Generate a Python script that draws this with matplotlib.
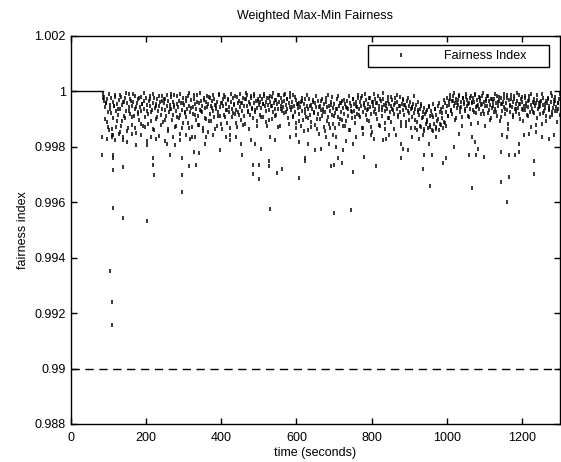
import numpy as np
import matplotlib
matplotlib.use("Agg")
import matplotlib.pyplot as plt

plt.rcParams["font.family"] = ["Liberation Sans", "DejaVu Sans"]

# flat start of the run (index stays at 1)
start_t = [0, 86]
start_v = [1.0, 1.0]

# samples read every 2 seconds from t=86 to t=1300
band_t = np.arange(86, 1301, 2)
band_v = [
    0.99992, 0.99981, 0.99966, 0.99943, 0.99958, 0.99889, 0.99971, 0.99925, 0.99862, 0.99950,
    0.99935, 0.99978, 0.99842, 0.99962, 0.99905, 0.99947, 0.99988, 0.99871, 0.99931, 0.99954,
    0.99915, 0.99968, 0.99845, 0.99937, 0.99979, 0.99893, 0.99952, 0.99826, 0.99961, 0.99904,
    0.99975, 0.99931, 0.99958, 0.99868, 0.99942, 0.99989, 0.99917, 0.99964, 0.99880, 0.99947,
    0.99962, 0.99912, 0.99983, 0.99936, 0.99851, 0.99957, 0.99926, 0.99971, 0.99898, 0.99944,
    0.99981, 0.99929, 0.99953, 0.99874, 0.99966, 0.99938, 0.99908, 0.99975, 0.99822, 0.99952,
    0.99918, 0.99964, 0.99947, 0.99985, 0.99893, 0.99933, 0.99959, 0.99866, 0.99977, 0.99941,
    0.99956, 0.99902, 0.99972, 0.99928, 0.99948, 0.99838, 0.99963, 0.99915, 0.99984, 0.99937,
    0.99889, 0.99958, 0.99932, 0.99973, 0.99911, 0.99946, 0.99857, 0.99966, 0.99924, 0.99952,
    0.99979, 0.99937, 0.99896, 0.99961, 0.99945, 0.99988, 0.99872, 0.99929, 0.99955, 0.99908,
    0.99943, 0.99967, 0.99915, 0.99848, 0.99958, 0.99932, 0.99976, 0.99886, 0.99951, 0.99921,
    0.99964, 0.99906, 0.99938, 0.99982, 0.99867, 0.99949, 0.99927, 0.99969, 0.99835, 0.99945,
    0.99918, 0.99972, 0.99953, 0.99896, 0.99937, 0.99986, 0.99911, 0.99958, 0.99879, 0.99934,
    0.99967, 0.99925, 0.99948, 0.99869, 0.99978, 0.99939, 0.99903, 0.99962, 0.99944, 0.99852,
    0.99956, 0.99981, 0.99918, 0.99947, 0.99893, 0.99965, 0.99931, 0.99974, 0.99909, 0.99952,
    0.99936, 0.99875, 0.99961, 0.99924, 0.99988, 0.99943, 0.99912, 0.99957, 0.99865, 0.99971,
    0.99948, 0.99915, 0.99979, 0.99933, 0.99956, 0.99887, 0.99968, 0.99926, 0.99945, 0.99841,
    0.99963, 0.99938, 0.99907, 0.99975, 0.99952, 0.99919, 0.99984, 0.99934, 0.99871, 0.99958,
    0.99927, 0.99966, 0.99944, 0.99898, 0.99959, 0.99931, 0.99977, 0.99912, 0.99949, 0.99882,
    0.99972, 0.99946, 0.99988, 0.99929, 0.99961, 0.99915, 0.99953, 0.99978, 0.99936, 0.99905,
    0.99958, 0.99982, 0.99924, 0.99966, 0.99941, 0.99893, 0.99974, 0.99952, 0.99916, 0.99963,
    0.99939, 0.99971, 0.99955, 0.99908, 0.99984, 0.99947, 0.99928, 0.99962, 0.99876, 0.99951,
    0.99975, 0.99932, 0.99963, 0.99946, 0.99899, 0.99981, 0.99924, 0.99957, 0.99938, 0.99969,
    0.99915, 0.99953, 0.99986, 0.99937, 0.99961, 0.99874, 0.99948, 0.99976, 0.99928, 0.99942,
    0.99966, 0.99921, 0.99989, 0.99952, 0.99935, 0.99971, 0.99903, 0.99958, 0.99944, 0.99979,
    0.99934, 0.99962, 0.99911, 0.99987, 0.99948, 0.99926, 0.99968, 0.99885, 0.99955, 0.99939,
    0.99957, 0.99918, 0.99942, 0.99876, 0.99965, 0.99931, 0.99896, 0.99953, 0.99922, 0.99974,
    0.99908, 0.99946, 0.99862, 0.99937, 0.99971, 0.99915, 0.99952, 0.99889, 0.99935, 0.99961,
    0.99926, 0.99879, 0.99958, 0.99943, 0.99902, 0.99967, 0.99917, 0.99848, 0.99949, 0.99933,
    0.99964, 0.99912, 0.99938, 0.99871, 0.99955, 0.99927, 0.99978, 0.99895, 0.99944, 0.99909,
    0.99948, 0.99867, 0.99929, 0.99962, 0.99914, 0.99941, 0.99884, 0.99956, 0.99923, 0.99837,
    0.99935, 0.99971, 0.99906, 0.99947, 0.99882, 0.99958, 0.99924, 0.99965, 0.99898, 0.99939,
    0.99918, 0.99953, 0.99875, 0.99942, 0.99967, 0.99911, 0.99936, 0.99861, 0.99957, 0.99928,
    0.99946, 0.99903, 0.99972, 0.99931, 0.99955, 0.99886, 0.99963, 0.99919, 0.99944, 0.99977,
    0.99937, 0.99961, 0.99908, 0.99949, 0.99983, 0.99926, 0.99869, 0.99958, 0.99941, 0.99914,
    0.99968, 0.99932, 0.99955, 0.99892, 0.99976, 0.99943, 0.99918, 0.99962, 0.99853, 0.99947,
    0.99925, 0.99971, 0.99938, 0.99957, 0.99901, 0.99985, 0.99934, 0.99949, 0.99877, 0.99966,
    0.99942, 0.99912, 0.99974, 0.99951, 0.99928, 0.99865, 0.99959, 0.99936, 0.99981, 0.99904,
    0.99955, 0.99927, 0.99946, 0.99889, 0.99968, 0.99933, 0.99952, 0.99917, 0.99975, 0.99841,
    0.99938, 0.99963, 0.99906, 0.99947, 0.99924, 0.99979, 0.99891, 0.99956, 0.99932, 0.99968,
    0.99915, 0.99952, 0.99874, 0.99941, 0.99966, 0.99929, 0.99948, 0.99897, 0.99961, 0.99935,
    0.99942, 0.99908, 0.99956, 0.99923, 0.99868, 0.99937, 0.99951, 0.99889, 0.99927, 0.99962,
    0.99915, 0.99935, 0.99872, 0.99948, 0.99903, 0.99926, 0.99857, 0.99941, 0.99918, 0.99884,
    0.99932, 0.99896, 0.99867, 0.99945, 0.99911, 0.99878, 0.99929, 0.99862, 0.99953, 0.99907,
    0.99884, 0.99938, 0.99871, 0.99916, 0.99892, 0.99947, 0.99859, 0.99925, 0.99881, 0.99936,
    0.99905, 0.99868, 0.99942, 0.99891, 0.99958, 0.99927, 0.99875, 0.99946, 0.99913, 0.99964,
    0.99951, 0.99973, 0.99932, 0.99964, 0.99918, 0.99985, 0.99947, 0.99958, 0.99896, 0.99971,
    0.99939, 0.99968, 0.99952, 0.99987, 0.99926, 0.99961, 0.99943, 0.99908, 0.99977, 0.99955,
    0.99963, 0.99928, 0.99981, 0.99946, 0.99969, 0.99912, 0.99958, 0.99975, 0.99937, 0.99883,
    0.99957, 0.99976, 0.99934, 0.99962, 0.99988, 0.99945, 0.99921, 0.99968, 0.99951, 0.99979,
    0.99938, 0.99965, 0.99917, 0.99954, 0.99983, 0.99929, 0.99961, 0.99876, 0.99948, 0.99972,
    0.99946, 0.99985, 0.99923, 0.99967, 0.99951, 0.99904, 0.99974, 0.99939, 0.99962, 0.99927,
    0.99971, 0.99936, 0.99958, 0.99912, 0.99983, 0.99947, 0.99964, 0.99892, 0.99955, 0.99978,
    0.99929, 0.99962, 0.99944, 0.99976, 0.99918, 0.99957, 0.99986, 0.99934, 0.99866, 0.99969,
    0.99952, 0.99924, 0.99973, 0.99945, 0.99961, 0.99909, 0.99982, 0.99938, 0.99956, 0.99927,
    0.99965, 0.99941, 0.99988, 0.99919, 0.99954, 0.99972, 0.99936, 0.99961, 0.99895, 0.99948,
    0.99976, 0.99932, 0.99959, 0.99914, 0.99967, 0.99943, 0.99985, 0.99926, 0.99952, 0.99871,
    0.99938, 0.99963, 0.99921, 0.99974, 0.99947, 0.99958, 0.99903, 0.99969, 0.99935, 0.99957,
    0.99946, 0.99917, 0.99964, 0.99881, 0.99952, 0.99978, 0.99928, 0.99941, 0.99966, 0.99912,
    0.99958, 0.99973, 0.99934, 0.99949, 0.99906, 0.99962, 0.99925, 0.99984, 0.99939, 0.99955,
    0.99928, 0.99967, 0.99943, 0.99891, 0.99958, 0.99936, 0.99972, 0.99914,
]

# in-between samples, every 4 seconds from t=87
odd_t = np.arange(87, 1300, 4)
odd_v = [
    0.99975, 0.99902, 0.99958, 0.99871, 0.99989, 0.99923, 0.99864, 0.99946, 0.99981, 0.99895,
    0.99938, 0.99986, 0.99877, 0.99961, 0.99912, 0.99993, 0.99858, 0.99929, 0.99974, 0.99906,
    0.99989, 0.99868, 0.99942, 0.99919, 0.99978, 0.99884, 0.99956, 0.99993, 0.99873, 0.99931,
    0.99884, 0.99971, 0.99926, 0.99992, 0.99861, 0.99948, 0.99906, 0.99983, 0.99879, 0.99964,
    0.99972, 0.99897, 0.99987, 0.99865, 0.99938, 0.99991, 0.99914, 0.99952, 0.99876, 0.99983,
    0.99903, 0.99989, 0.99869, 0.99957, 0.99924, 0.99978, 0.99885, 0.99993, 0.99941, 0.99872,
    0.99988, 0.99914, 0.99963, 0.99879, 0.99994, 0.99928, 0.99857, 0.99969, 0.99901, 0.99982,
    0.99893, 0.99975, 0.99939, 0.99986, 0.99866, 0.99949, 0.99911, 0.99992, 0.99883, 0.99958,
    0.99986, 0.99906, 0.99934, 0.99973, 0.99869, 0.99991, 0.99921, 0.99954, 0.99887, 0.99979,
    0.99915, 0.99989, 0.99958, 0.99878, 0.99972, 0.99994, 0.99926, 0.99865, 0.99983, 0.99941,
    0.99991, 0.99932, 0.99874, 0.99967, 0.99985, 0.99908, 0.99953, 0.99992, 0.99889, 0.99976,
    0.99898, 0.99983, 0.99947, 0.99993, 0.99912, 0.99968, 0.99871, 0.99988, 0.99935, 0.99962,
    0.99987, 0.99924, 0.99971, 0.99882, 0.99995, 0.99943, 0.99906, 0.99979, 0.99867, 0.99954,
    0.99893, 0.99962, 0.99978, 0.99858, 0.99935, 0.99986, 0.99904, 0.99948, 0.99873, 0.99969,
    0.99921, 0.99982, 0.99865, 0.99945, 0.99899, 0.99974, 0.99927, 0.99856, 0.99963, 0.99988,
    0.99884, 0.99951, 0.99979, 0.99912, 0.99867, 0.99938, 0.99985, 0.99902, 0.99957, 0.99874,
    0.99968, 0.99893, 0.99941, 0.99983, 0.99862, 0.99926, 0.99972, 0.99909, 0.99949, 0.99987,
    0.99915, 0.99976, 0.99869, 0.99952, 0.99991, 0.99897, 0.99936, 0.99978, 0.99871, 0.99961,
    0.99989, 0.99918, 0.99957, 0.99878, 0.99973, 0.99932, 0.99993, 0.99886, 0.99947, 0.99965,
    0.99903, 0.99981, 0.99936, 0.99863, 0.99958, 0.99987, 0.99914, 0.99949, 0.99877, 0.99972,
    0.99952, 0.99889, 0.99976, 0.99923, 0.99868, 0.99941, 0.99983, 0.99897, 0.99862, 0.99934,
    0.99876, 0.99953, 0.99908, 0.99864, 0.99927, 0.99889, 0.99946, 0.99872, 0.99915, 0.99858,
    0.99937, 0.99866, 0.99902, 0.99958, 0.99879, 0.99921, 0.99969, 0.99885, 0.99976, 0.99912,
    0.99988, 0.99929, 0.99967, 0.99993, 0.99905, 0.99958, 0.99982, 0.99941, 0.99874, 0.99975,
    0.99936, 0.99991, 0.99954, 0.99908, 0.99984, 0.99962, 0.99927, 0.99989, 0.99946, 0.99887,
    0.99978, 0.99952, 0.99993, 0.99918, 0.99967, 0.99985, 0.99934, 0.99896, 0.99972, 0.99948,
    0.99989, 0.99926, 0.99963, 0.99981, 0.99907, 0.99956, 0.99992, 0.99938, 0.99975, 0.99883,
    0.99947, 0.99986, 0.99915, 0.99971, 0.99938, 0.99994, 0.99953, 0.99902, 0.99979, 0.99932,
    0.99983, 0.99948, 0.99911, 0.99968, 0.99991, 0.99927, 0.99957, 0.99878, 0.99986, 0.99943,
    0.99962, 0.99989, 0.99923, 0.99954, 0.99895, 0.99976, 0.99938, 0.99993, 0.99916, 0.99969,
    0.99981, 0.99929, 0.99958, 0.99992,
]

# samples in the 0.9979-0.9985 range
mid_t = [84, 96, 109, 114, 118, 131, 140, 149, 162, 175, 188, 202, 215, 228, 250,
         255, 272, 277, 290, 308, 317, 330, 356, 361, 378, 396, 414, 423, 440, 453,
         480, 489, 506, 529, 542, 582, 599, 608, 630, 648, 665, 679, 687, 696, 705,
         723, 732, 749, 758, 776, 798, 807, 829, 838, 846, 877, 882, 895, 908, 926,
         936, 952, 970, 1019, 1032, 1067, 1074, 1083, 1147, 1160, 1191, 1204, 1217,
         1235, 1253, 1270, 1283]
mid_v = [0.99837, 0.99829, 0.99837, 0.99841, 0.99823, 0.99853, 0.99835, 0.99817,
         0.99847, 0.99805, 0.99841, 0.99805, 0.99835, 0.99829, 0.99820, 0.99809,
         0.99835, 0.99805, 0.99823, 0.99841, 0.99829, 0.99835, 0.99809, 0.99835,
         0.99841, 0.99790, 0.99835, 0.99823, 0.99837, 0.99811, 0.99823, 0.99811,
         0.99793, 0.99835, 0.99823, 0.99837, 0.99841, 0.99817, 0.99811, 0.99790,
         0.99793, 0.99837, 0.99811, 0.99841, 0.99799, 0.99790, 0.99820, 0.99811,
         0.99835, 0.99847, 0.99841, 0.99829, 0.99825, 0.99829, 0.99841, 0.99811,
         0.99793, 0.99787, 0.99837, 0.99829, 0.99841, 0.99811, 0.99835, 0.99799,
         0.99847, 0.99835, 0.99817, 0.99793, 0.99841, 0.99837, 0.99811, 0.99841,
         0.99847, 0.99853, 0.99835, 0.99829, 0.99841]

# scattered low samples
low_t = [84, 113, 114, 113, 140, 219, 219, 221, 297, 295, 295, 315, 332, 327, 340,
         265, 456, 484, 500, 484, 500, 527, 528, 548, 561, 606, 622, 622, 692, 699,
         710, 720, 749, 780, 811, 879, 939, 961, 936, 954, 989, 998, 1067, 1059,
         1078, 1099, 1142, 1142, 1164, 1160, 1164, 1181, 1190, 1230, 1230,
         113, 140, 203, 531, 699, 745, 105, 109, 111]
low_v = [0.99769, 0.99770, 0.99760, 0.99715, 0.99727, 0.99758, 0.99733, 0.99697,
         0.99637, 0.99758, 0.99700, 0.99730, 0.99733, 0.99780, 0.99778, 0.99770,
         0.99770, 0.99735, 0.99735, 0.99703, 0.99684, 0.99749, 0.99731, 0.99707,
         0.99720, 0.99688, 0.99760, 0.99750, 0.99730, 0.99736, 0.99760, 0.99740,
         0.99708, 0.99763, 0.99730, 0.99760, 0.99770, 0.99770, 0.99720, 0.99658,
         0.99740, 0.99760, 0.99650, 0.99770, 0.99772, 0.99765, 0.99780, 0.99673,
         0.99691, 0.99601, 0.99770, 0.99770, 0.99780, 0.99750, 0.99703,
         0.99578, 0.99545, 0.99533, 0.99576, 0.99563, 0.99572, 0.99353, 0.99240, 0.99156]

threshold = 0.99

x_ticks = [0, 200, 400, 600, 800, 1000, 1200]
y_ticks = [0.988, 0.99, 0.992, 0.994, 0.996, 0.998, 1.0, 1.002]
y_labels = ["0.988", "0.99", "0.992", "0.994", "0.996", "0.998", "1", "1.002"]

all_t = np.concatenate([band_t, odd_t, mid_t, low_t])
all_v = np.concatenate([band_v, odd_v, mid_v, low_v])

fig = plt.figure(figsize=(5.61, 4.62), dpi=100)
ax = fig.add_axes([0.1257, 0.0823, 0.8725, 0.8398])

ax.plot(start_t, start_v, color="black", linewidth=1.0)
ax.plot(all_t, all_v, linestyle="none", marker="|", markersize=2.4,
        markeredgewidth=1.1, color="black", label="Fairness Index")
ax.axhline(threshold, color="black", linestyle=(0, (6, 4)), linewidth=1.0)

ax.set_xlim(0, 1300)
ax.set_ylim(0.988, 1.002)
ax.set_xticks(x_ticks)
ax.set_yticks(y_ticks)
ax.set_yticklabels(y_labels)
ax.tick_params(direction="in", top=True, right=True, length=4, labelsize=9, width=1)
ax.tick_params(axis="x", pad=6)
for s in ax.spines.values():
    s.set_linewidth(1.0)

ax.set_title("Weighted Max-Min Fairness", fontsize=9, pad=12)
ax.set_xlabel("time (seconds)", fontsize=9, labelpad=2)
ax.set_ylabel("fairness index", fontsize=9, labelpad=4)

leg = ax.legend(loc="upper left", bbox_to_anchor=(0.608, 0.912, 0.3695, 0.065),
                mode="expand", fancybox=False, edgecolor="black", framealpha=1,
                fontsize=9, handlelength=4.5, handletextpad=1.2, borderpad=0.4,
                borderaxespad=0)
leg.get_frame().set_linewidth(1.0)

fig.savefig("out.png", dpi=100)
